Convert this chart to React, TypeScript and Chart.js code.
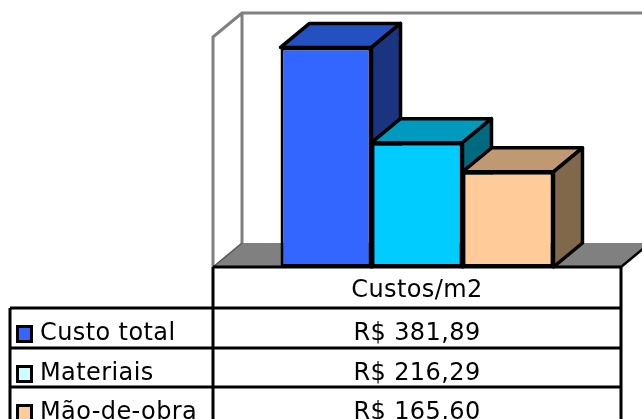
import React, { useEffect, useRef } from "react";
import { Chart, registerables } from "chart.js";

Chart.register(...registerables);

const categories = ["Custos/m2"];
const seriesNames = ["Custo total", "Materiais", "Mão-de-obra"];
const seriesValues = [381.89, 216.29, 165.6];
const yMax = 400;

const frontColors = ["#3366FF", "#00CCFF", "#FFCC99"];
const topColors = ["#2550C0", "#009ABF", "#C09872"];
const sideColors = ["#1A3480", "#006A80", "#80684A"];
const legendColors = ["#3366FF", "#CCFFFF", "#FFCC99"];

const DX = 29;
const DY = -24;
const FONT = "24px 'DejaVu Sans'";

const fmt = (v: number) => "R$ " + v.toFixed(2).replace(".", ",");

const threeD = {
  id: "threeD",
  beforeDatasetsDraw(chart: any) {
    const { ctx, chartArea: a } = chart;
    const L = a.left, R = a.right, T = a.top, B = a.bottom;
    ctx.save();
    // floor
    ctx.fillStyle = "#808080";
    ctx.beginPath();
    ctx.moveTo(L, B);
    ctx.lineTo(L + DX, B + DY);
    ctx.lineTo(R + DX, B + DY);
    ctx.lineTo(R, B);
    ctx.closePath();
    ctx.fill();
    // walls
    ctx.strokeStyle = "#808080";
    ctx.lineWidth = 3;
    ctx.beginPath();
    ctx.moveTo(L, B);
    ctx.lineTo(L, T);
    ctx.lineTo(L + DX, T + DY);
    ctx.lineTo(R + DX, T + DY);
    ctx.lineTo(R + DX, B + DY);
    ctx.moveTo(L + DX, T + DY);
    ctx.lineTo(L + DX, B + DY);
    ctx.stroke();
    ctx.strokeStyle = "#555555";
    ctx.lineWidth = 1.5;
    ctx.beginPath();
    ctx.moveTo(L, B);
    ctx.lineTo(L + DX, B + DY);
    ctx.stroke();
    ctx.strokeStyle = "#000000";
    ctx.lineWidth = 2.5;
    ctx.beginPath();
    ctx.moveTo(R, B);
    ctx.lineTo(R + DX, B + DY);
    ctx.stroke();
    // bar tops and sides
    ctx.lineWidth = 3.5;
    ctx.lineJoin = "round";
    chart.data.datasets.forEach((_: any, i: number) => {
      const meta = chart.getDatasetMeta(i);
      meta.data.forEach((el: any) => {
        const { x, y, base, width } = el.getProps(["x", "y", "base", "width"], true);
        const l = x - width / 2;
        const r = x + width / 2;
        ctx.strokeStyle = "#000";
        ctx.fillStyle = topColors[i];
        ctx.beginPath();
        ctx.moveTo(l, y);
        ctx.lineTo(l + DX, y + DY);
        ctx.lineTo(r + DX, y + DY);
        ctx.lineTo(r, y);
        ctx.closePath();
        ctx.fill();
        ctx.stroke();
        ctx.fillStyle = sideColors[i];
        ctx.beginPath();
        ctx.moveTo(r, y);
        ctx.lineTo(r + DX, y + DY);
        ctx.lineTo(r + DX, base + DY);
        ctx.lineTo(r, base);
        ctx.closePath();
        ctx.fill();
        ctx.stroke();
      });
    });
    ctx.restore();
  },
  afterDraw(chart: any) {
    const { ctx, chartArea: a } = chart;
    const L = a.left, R = a.right, B = a.bottom;
    const legendLeft = 10;
    const headerBottom = B + 41;
    const rowH = 39.5;
    const rowTops = seriesNames.map((_, i) => Math.round(headerBottom + i * rowH));
    const H = chart.height;
    ctx.save();
    ctx.strokeStyle = "#000";
    ctx.lineWidth = 3;
    ctx.beginPath();
    ctx.moveTo(L, B);
    ctx.lineTo(R, B);
    rowTops.forEach((t) => {
      ctx.moveTo(legendLeft, t);
      ctx.lineTo(R, t);
    });
    ctx.moveTo(L, B);
    ctx.lineTo(L, H);
    ctx.moveTo(R, B);
    ctx.lineTo(R, H);
    ctx.moveTo(legendLeft, headerBottom);
    ctx.lineTo(legendLeft, H);
    ctx.stroke();

    ctx.fillStyle = "#000";
    ctx.font = FONT;
    ctx.textBaseline = "alphabetic";
    try { (ctx as any).letterSpacing = "0.4px"; } catch (e) {}
    const cx = (L + R) / 2;
    ctx.textAlign = "center";
    ctx.fillText(categories[0], cx, headerBottom - 11);
    rowTops.forEach((t, i) => {
      const bl = t + 32;
      ctx.textAlign = "center";
      ctx.fillStyle = "#000";
      ctx.fillText(fmt(seriesValues[i]), cx, bl);
      ctx.textAlign = "left";
      ctx.fillText(seriesNames[i], 40, bl);
      ctx.fillStyle = legendColors[i];
      ctx.fillRect(17.5, bl - 13.5, 14, 15);
      ctx.lineWidth = 3;
      ctx.strokeRect(17.5, bl - 13.5, 14, 15);
    });
    ctx.restore();
  },
};

export default function App() {
  const ref = useRef<HTMLCanvasElement>(null);
  useEffect(() => {
    if (!ref.current) return;
    const chart = new Chart(ref.current, {
      type: "bar",
      data: {
        labels: categories,
        datasets: seriesNames.map((name, i) => ({
          label: name,
          data: [seriesValues[i]],
          backgroundColor: frontColors[i],
          borderColor: "#000",
          borderWidth: 3,
          borderSkipped: false,
          categoryPercentage: 0.669,
          barPercentage: 1,
        })),
      },
      options: {
        animation: false,
        responsive: false,
        layout: { padding: { left: 213, right: 21, top: 37, bottom: 152 } },
        plugins: { legend: { display: false }, tooltip: { enabled: false }, title: { display: false } },
        scales: {
          x: { display: false },
          y: { display: false, min: 0, max: yMax },
        },
      },
      plugins: [threeD],
    });
    return () => chart.destroy();
  }, []);
  return (
    <div style={{ position: "fixed", left: 0, top: 0, width: 642, height: 419, background: "#fff" }}>
      <canvas ref={ref} width={642} height={419} />
    </div>
  );
}
